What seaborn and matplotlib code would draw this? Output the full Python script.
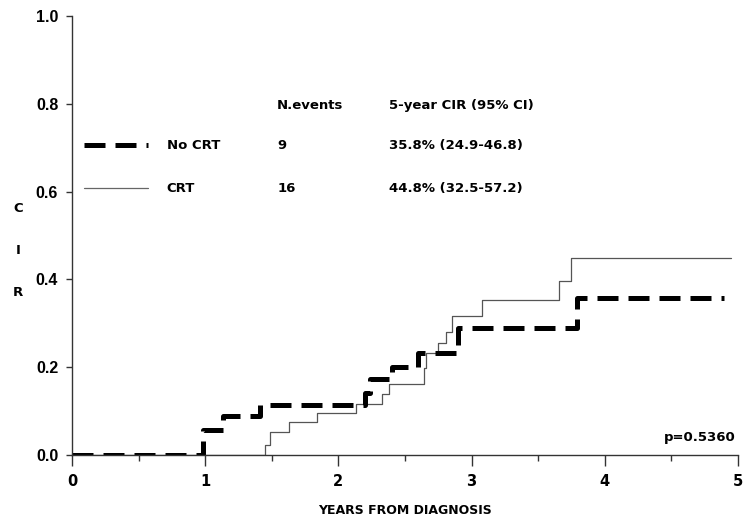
import numpy as np
import pandas as pd
import matplotlib
matplotlib.use("Agg")
import matplotlib.pyplot as plt
import seaborn as sns

# step times (years) and cumulative incidence after each step
no_crt_time = [0.0, 0.98, 1.13, 1.41, 2.20, 2.24, 2.40, 2.60, 2.90, 3.79, 4.90]
no_crt_cir = [0.0, 0.057, 0.089, 0.114, 0.141, 0.173, 0.200, 0.232, 0.290, 0.358, 0.358]

crt_time = [0.0, 1.45, 1.49, 1.63, 1.84, 2.13, 2.33, 2.38, 2.64, 2.66, 2.75,
            2.81, 2.85, 3.08, 3.66, 3.75, 4.95]
crt_cir = [0.0, 0.023, 0.052, 0.075, 0.096, 0.116, 0.139, 0.162, 0.198, 0.232,
           0.255, 0.280, 0.317, 0.353, 0.396, 0.448, 0.448]

groups = ["No CRT", "CRT"]
n_events = ["9", "16"]
cir_5yr = ["35.8% (24.9-46.8)", "44.8% (32.5-57.2)"]
p_value = "p=0.5360"

df_no = pd.DataFrame({"years": no_crt_time, "cir": no_crt_cir, "group": "No CRT"})
df_crt = pd.DataFrame({"years": crt_time, "cir": crt_cir, "group": "CRT"})

sns.set_style("ticks")
plt.rcParams["font.family"] = ["DejaVu Sans"]
plt.rcParams["text.color"] = "black"
plt.rcParams["xtick.color"] = "black"
plt.rcParams["ytick.color"] = "black"

fig = plt.figure(figsize=(7.43, 5.21), dpi=100)
ax = fig.add_axes([0.097, 0.127, 0.896, 0.842])

sns.lineplot(data=df_crt, x="years", y="cir", ax=ax, color="#555555",
             linewidth=0.9, drawstyle="steps-post", estimator=None, sort=False)
sns.lineplot(data=df_no, x="years", y="cir", ax=ax, color="black",
             linewidth=3.6, drawstyle="steps-post", estimator=None, sort=False,
             linestyle=(0, (4.2, 2.0)))

ax.set_xlim(0, 5)
ax.set_ylim(0, 1)
ax.set_xticks([0, 1, 2, 3, 4, 5])
ax.set_xticks(np.arange(0.5, 5, 1.0), minor=True)
ax.set_yticks([0.0, 0.2, 0.4, 0.6, 0.8, 1.0])
ax.set_yticklabels(["0.0", "0.2", "0.4", "0.6", "0.8", "1.0"])
ax.tick_params(axis="x", which="major", length=8, width=1, color="#333333",
               labelcolor="black", pad=6)
ax.tick_params(axis="x", which="minor", length=4, width=1, color="#333333")
ax.tick_params(axis="y", length=4, width=1, color="#333333", labelcolor="black", pad=6)
for lab in ax.get_xticklabels():
    lab.set_fontweight("bold")
    lab.set_fontsize(10.5)
for lab in ax.get_yticklabels():
    lab.set_fontweight("bold")
    lab.set_fontsize(11.5)
    lab.set_family("Liberation Sans")
ax.set_xlabel("")
ax.set_ylabel("")
sns.despine(ax=ax)
for s in ["left", "bottom"]:
    ax.spines[s].set_color("#333333")
    ax.spines[s].set_linewidth(1)

# legend table
fs = 9.5
ax.text(1.54, 0.797, "N.events", fontsize=fs, fontweight="bold", va="center")
ax.text(2.38, 0.797, "5-year CIR (95% CI)", fontsize=fs, fontweight="bold", va="center")
rows_y = [0.706, 0.608]
styles = [dict(color="black", linewidth=3.6, linestyle=(0, (4.2, 2.0))),
          dict(color="#666666", linewidth=0.9)]
for i, g in enumerate(groups):
    ax.plot([0.09, 0.57], [rows_y[i], rows_y[i]], **styles[i])
    ax.text(0.71, rows_y[i], g, fontsize=fs, fontweight="bold", va="center")
    ax.text(1.54, rows_y[i], n_events[i], fontsize=fs, fontweight="bold", va="center")
    ax.text(2.38, rows_y[i], cir_5yr[i], fontsize=fs, fontweight="bold", va="center")

ax.text(4.98, 0.039, p_value, fontsize=fs, fontweight="bold", ha="right", va="center")

for ch, yy in zip("CIR", [208, 250, 292]):
    fig.text(18 / 743, 1 - yy / 521, ch, fontsize=fs, fontweight="bold",
             ha="center", va="center")
fig.text(405 / 743, 1 - 510 / 521, "YEARS FROM DIAGNOSIS", fontsize=9,
         fontweight="bold", ha="center", va="center")

fig.savefig("out.png", dpi=100)
